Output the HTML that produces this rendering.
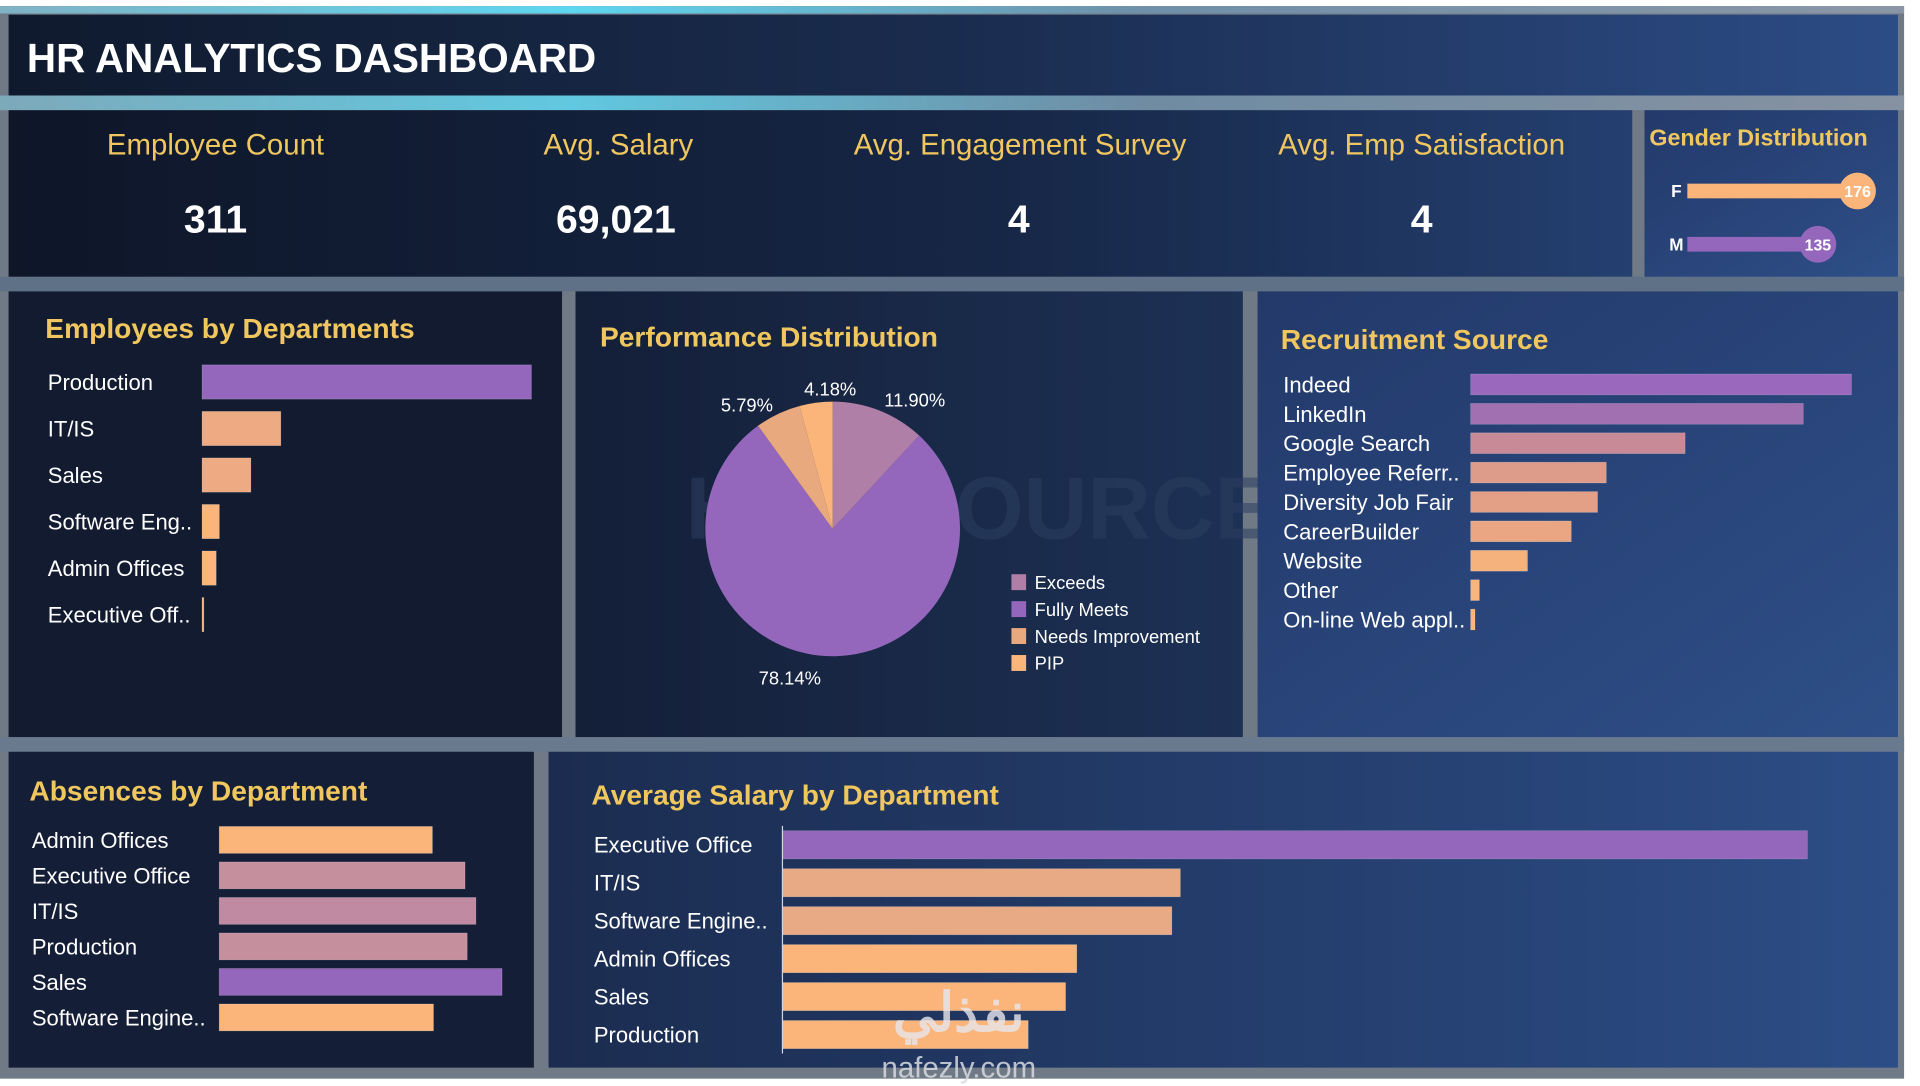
<!DOCTYPE html>
<html><head><meta charset="utf-8"><title>HR Analytics Dashboard</title>
<style>
html,body{margin:0;padding:0;background:#fff;overflow:hidden}
svg{display:block;font-family:"Liberation Sans","DejaVu Sans",sans-serif}
</style></head>
<body>
<svg id="dash" width="1920" height="1086" viewBox="0 0 1568 887" preserveAspectRatio="none" xmlns="http://www.w3.org/2000/svg">
<defs>
<linearGradient id="hdr" x1="0" y1="0" x2="1" y2="0">
<stop offset="0" stop-color="#0f1a2e"/><stop offset="0.5" stop-color="#1a2c4e"/><stop offset="1" stop-color="#2c4c86"/>
</linearGradient>
<linearGradient id="kpi" x1="0" y1="0" x2="1" y2="0">
<stop offset="0" stop-color="#0e1628"/><stop offset="0.6" stop-color="#162645"/><stop offset="1" stop-color="#243f70"/>
</linearGradient>
<linearGradient id="mid" x1="0" y1="0" x2="1" y2="0">
<stop offset="0" stop-color="#141f38"/><stop offset="1" stop-color="#1d3155"/>
</linearGradient>
<linearGradient id="blue" x1="0" y1="0" x2="1" y2="1">
<stop offset="0" stop-color="#23396a"/><stop offset="1" stop-color="#2e4f88"/>
</linearGradient>
<linearGradient id="bot" x1="0" y1="0" x2="1" y2="0">
<stop offset="0" stop-color="#1b2c50"/><stop offset="1" stop-color="#2c4d86"/>
</linearGradient>
<linearGradient id="cy" x1="0" y1="0" x2="1" y2="0">
<stop offset="0" stop-color="#7fb2c4"/><stop offset="0.3" stop-color="#5ed6f0"/><stop offset="0.6" stop-color="#6f8fa8"/><stop offset="1" stop-color="#8a96a6"/>
</linearGradient>
</defs>
<rect x="0" y="0" width="1568" height="887" fill="#ffffff"/>
<rect x="0" y="5" width="1555" height="876" fill="#6f7a86"/>
<rect x="0" y="5" width="1555" height="6" fill="url(#cy)"/>
<rect x="0" y="78" width="1555" height="12" fill="url(#cy)" opacity="0.85"/>
<rect x="0" y="226" width="1555" height="12" fill="#5f7186"/>
<rect x="0" y="602" width="1555" height="12" fill="#6a7a8e"/>

<g>
<rect x="7" y="12" width="1543" height="66" fill="url(#hdr)"/>
<text x="22" y="59" fill="#ffffff" font-size="33" font-weight="bold">HR ANALYTICS DASHBOARD</text>
</g>

<g>
<rect x="7" y="90" width="1326" height="136" fill="url(#kpi)"/>
<g fill="#f0c75e" font-size="24" text-anchor="middle">
<text x="176" y="126">Employee Count</text>
<text x="505" y="126">Avg. Salary</text>
<text x="833" y="126">Avg. Engagement Survey</text>
<text x="1161" y="126">Avg. Emp Satisfaction</text>
</g>
<g fill="#ffffff" font-size="32" font-weight="bold" text-anchor="middle">
<text x="176" y="190">311</text>
<text x="503" y="190">69,021</text>
<text x="832" y="190">4</text>
<text x="1161" y="190">4</text>
</g>
</g>

<g>
<rect x="1343" y="90" width="207" height="136" fill="url(#blue)"/>
<text x="1347" y="119" fill="#f0c75e" font-size="19" font-weight="bold">Gender Distribution</text>
<g id="gender"></g>
</g>

<g>
<rect x="7" y="238" width="452" height="364" fill="#121b30"/>
<text x="37" y="276" fill="#f0c75e" font-size="23" font-weight="bold">Employees by Departments</text>
<g id="emp"></g>
</g>

<g>
<rect x="470" y="238" width="545" height="364" fill="url(#mid)"/>
<text x="490" y="283" fill="#f0c75e" font-size="23" font-weight="bold">Performance Distribution</text>
<text x="560" y="440" fill="#2c3f60" font-size="72" font-weight="bold" opacity="0.55">HR    ESOURCES</text>
<g id="pie"></g>
</g>

<g>
<rect x="1027" y="238" width="523" height="364" fill="url(#blue)"/>
<text x="1046" y="285" fill="#f0c75e" font-size="23" font-weight="bold">Recruitment Source</text>
<g id="rec"></g>
</g>

<g>
<rect x="7" y="614" width="429" height="258" fill="#141e36"/>
<text x="24" y="654" fill="#f0c75e" font-size="23" font-weight="bold">Absences by Department</text>
<g id="abs"></g>
</g>

<g>
<rect x="448" y="614" width="1102" height="258" fill="url(#bot)"/>
<text x="483" y="657" fill="#f0c75e" font-size="23" font-weight="bold">Average Salary by Department</text>
<g id="sal"></g>
<text x="783" y="842" fill="#e8e8ee" font-size="44" font-weight="bold" text-anchor="middle" opacity="0.8" font-family="'Noto Sans CJK SC',sans-serif">نفذلي</text>
<text x="783" y="880" fill="#d8dae0" font-size="24" text-anchor="middle" opacity="0.85">nafezly.com</text>
</g>
</svg>
<script>
const NS="http://www.w3.org/2000/svg";
function mk(p,tag,attrs){const e=document.createElementNS(NS,tag);for(const k in attrs)e.setAttribute(k,attrs[k]);p.appendChild(e);return e;}
const ORANGE="#fbb57a",PURPLE="#9467bd";

// Gender
const genderCats=["F","M"];
const genderVals=[176,135];
// Employees
const empCats=["Production","IT/IS","Sales","Software Eng..","Admin Offices","Executive Off.."];
const empVals=[209,50,31,11,9,1];
// Performance
const perfCats=["Exceeds","Fully Meets","Needs Improvement","PIP"];
const perfVals=[11.90,78.14,5.79,4.18];
const perfColors=["#b07fa8","#9467bd","#e8a97e","#fbb57a"];
// Recruitment
const recCats=["Indeed","LinkedIn","Google Search","Employee Referr..","Diversity Job Fair","CareerBuilder","Website","Other","On-line Web appl.."];
const recVals=[87,76,49,31,29,23,13,2,1];
// Absences
const absCats=["Admin Offices","Executive Office","IT/IS","Production","Sales","Software Engine.."];
const absVals=[9.8,11.3,11.8,11.4,13.0,9.85];
const absColors=[ORANGE,"#c68f9e","#c08aa2","#c68f9e",PURPLE,ORANGE];
// Salary
const salCats=["Executive Office","IT/IS","Software Engine..","Admin Offices","Sales","Production"];
const salVals=[250000,97065,94989,71792,69061,59954];
const salColors=[PURPLE,"#e8a985","#e8a985","#fbb57a","#fbb57a","#fbb57a"];

(function(){const g=document.getElementById('gender');const x0=1378,sc=139/176;
genderCats.forEach((c,i)=>{const y=156+i*43.5;const w=genderVals[i]*sc;const col=i===0?ORANGE:PURPLE;
const l=mk(g,'text',{x:1369,y:y+5,fill:'#fff','font-size':14,'font-weight':'bold','text-anchor':'middle'});l.textContent=c;


const r=mk(g,'rect',{x:x0,y:y-6,width:w,height:12,fill:col});


const ci=mk(g,'circle',{cx:x0+w,cy:y,r:15,fill:col});


const t=mk(g,'text',{x:x0+w,y:y+5,fill:'#fff','font-size':13,'font-weight':'bold','text-anchor':'middle'});t.textContent=genderVals[i];

});})();

function hbar(id,cats,vals,o){const g=document.getElementById(id);const mx=Math.max(...vals);
cats.forEach((c,i)=>{const y=o.y0+i*o.step;const w=Math.max(vals[i]/mx*o.wmax,1.5);
const t=mk(g,'text',{x:o.lx,y:y+o.fs*0.36,fill:'#ffffff','font-size':o.fs});t.textContent=c;


const col=o.colors[i];
const r=mk(g,'rect',{x:o.x0,y:y-o.h/2,width:w,height:o.h,fill:col,stroke:'rgba(255,255,255,0.25)','stroke-width':0.5});

});
if(o.axis){const a=mk(g,'line',{x1:o.x0,x2:o.x0,y1:o.y0-o.step/2,y2:o.y0+(cats.length-0.5)*o.step,stroke:'#cfd6e2','stroke-width':1});

}}

hbar('emp',empCats,empVals,{y0:312,step:38,x0:165,wmax:269,h:28,lx:39,fs:18,colors:empVals.map((v,i)=>i===0?PURPLE:(i<3?'#eeaa82':ORANGE))});
hbar('rec',recCats,recVals,{y0:314,step:24,x0:1201,wmax:311,h:17,lx:1048,fs:18,colors:["#9a68bd","#a070b0","#c98a98","#dd9b8a","#e4a087","#eaa683","#f6b27d",ORANGE,ORANGE]});
hbar('abs',absCats,absVals,{y0:686,step:29,x0:179,wmax:231,h:22,lx:26,fs:18,colors:absColors});
hbar('sal',salCats,salVals,{y0:690,step:31,x0:639,wmax:837,h:23,lx:485,fs:18,colors:salColors,axis:true});

(function(){const g=document.getElementById('pie');const cx=680,cy=432,r=104;const tot=perfVals.reduce((a,b)=>a+b,0);
let a0=0;
perfVals.forEach((v,i)=>{const a1=a0+v/tot*2*Math.PI;
const p=(a)=>[cx+r*Math.sin(a),cy-r*Math.cos(a)];const [x1,y1]=p(a0),[x2,y2]=p(a1);
const path=mk(g,'path',{d:`M${cx},${cy} L${x1},${y1} A${r},${r} 0 ${a1-a0>Math.PI?1:0} 1 ${x2},${y2} Z`,fill:perfColors[i]});


a0=a1;});
const offs=[[67,-105],[-35,122],[-70,-101],[-2,-114]];
perfVals.forEach((v,i)=>{const t=mk(g,'text',{x:cx+offs[i][0],y:cy+offs[i][1]+5,fill:'#ffffff','font-size':15,'text-anchor':'middle'});t.textContent=v.toFixed(2)+'%';

});
perfCats.forEach((c,i)=>{const y=476+i*22;
const s=mk(g,'rect',{x:826,y:y-7,width:12,height:13,fill:perfColors[i]});


const t=mk(g,'text',{x:845,y:y+5,fill:'#ffffff','font-size':15});t.textContent=c;

});})();
</script>
</body></html>
